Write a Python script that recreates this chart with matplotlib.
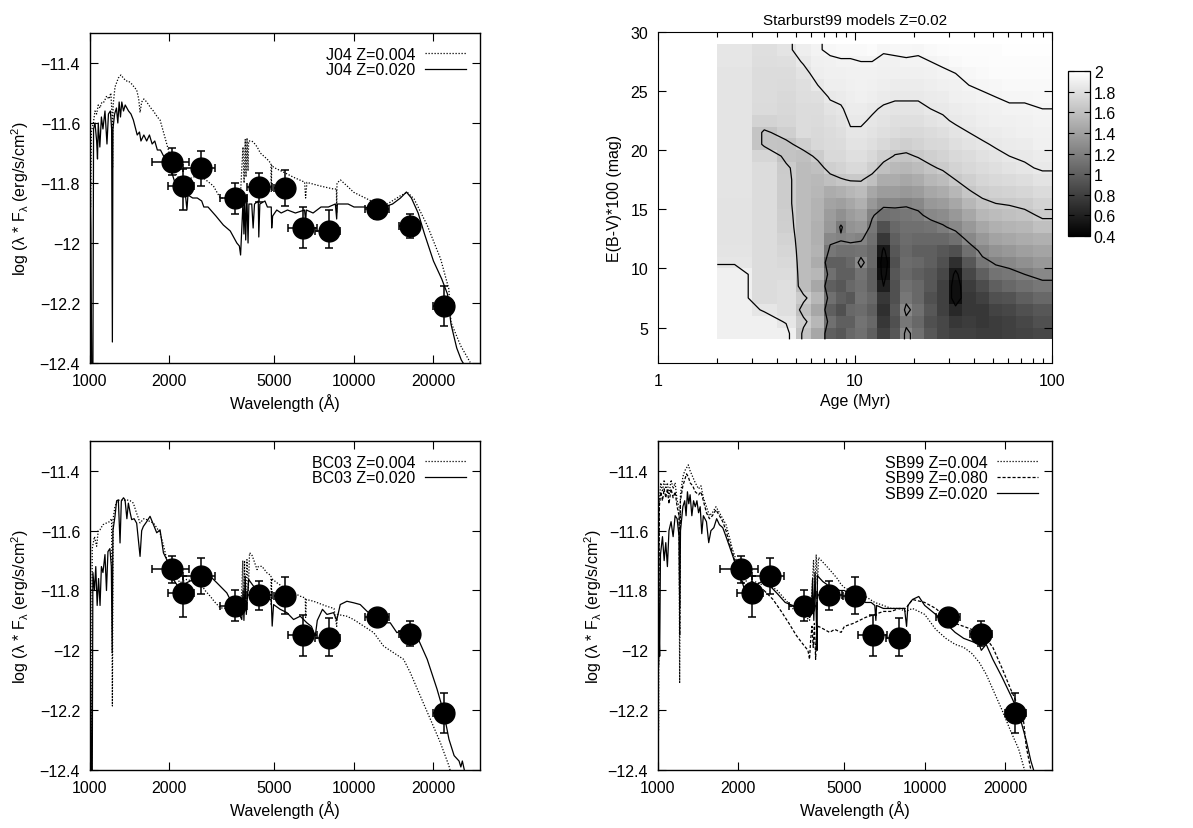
import numpy as np
import matplotlib
matplotlib.use('Agg')
import matplotlib.pyplot as plt
from matplotlib.ticker import FixedLocator, NullLocator, FuncFormatter, LogLocator

plt.rcParams['font.family'] = ['Liberation Sans', 'DejaVu Sans']
plt.rcParams['mathtext.default'] = 'regular'
plt.rcParams['font.size'] = 12

# observed photometry (same in the three SED panels)
obs_wave = np.array([2040, 2247, 2637, 3528, 4387, 5460, 6410, 8017, 12236, 16270, 21880])
obs_flux = np.array([-11.729, -11.809, -11.751, -11.851, -11.814, -11.818, -11.949, -11.960, -11.888, -11.944, -12.209])
obs_wave_lo = np.array([1714, 1982, 2247, 3112, 3931, 4960, 5607, 7139, 11050, 14780, 19960])
obs_wave_hi = np.array([2375, 2481, 2980, 3931, 4890, 5906, 7245, 8826, 13540, 17860, 23900])
obs_flux_lo = np.array([-11.775, -11.889, -11.811, -11.903, -11.864, -11.878, -12.018, -12.018, -11.920, -11.984, -12.276])
obs_flux_hi = np.array([-11.683, -11.753, -11.692, -11.800, -11.767, -11.756, -11.881, -11.891, -11.873, -11.903, -12.144])

wave_ticks = [1000, 2000, 5000, 10000, 20000]
flux_ticks = [-12.4, -12.2, -12.0, -11.8, -11.6, -11.4]

# model spectra (wavelength [A], log flux)
j04_z004 = [(1000,-11.66),(1006,-11.88),(1012,-11.63),(1030,-11.60),(1045,-11.56),(1060,-11.57),(1075,-11.54),
    (1091,-11.55),(1110,-11.53),(1130,-11.53),(1157,-11.51),(1180,-11.52),(1200,-11.50),(1212,-11.57),(1218,-11.75),
    (1224,-11.54),(1244,-11.48),(1281,-11.45),(1310,-11.44),(1338,-11.45),(1370,-11.46),(1398,-11.46),(1439,-11.47),
    (1470,-11.48),(1503,-11.49),(1530,-11.52),(1548,-11.565),(1570,-11.53),(1600,-11.52),(1641,-11.53),(1700,-11.55),
    (1739,-11.56),(1800,-11.58),(1843,-11.59),(1926,-11.65),(1982,-11.69),(2071,-11.76),(2200,-11.79),(2328,-11.79),
    (2467,-11.78),(2613,-11.775),(2750,-11.79),(2935,-11.81),(3114,-11.85),(3300,-11.85),(3496,-11.853),(3650,-11.85),
    (3707,-11.86),(3760,-11.75),(3800,-11.68),(3835,-11.80),(3874,-11.655),(3900,-11.78),(3935,-11.65),(3970,-11.76),
    (3990,-11.66),(4100,-11.66),(4170,-11.665),(4300,-11.68),(4418,-11.70),(4684,-11.72),(4850,-11.735),(4860,-11.83),
    (4880,-11.74),(4963,-11.748),(5418,-11.764),(5907,-11.781),(6500,-11.797),(6560,-11.85),(6633,-11.798),(7450,-11.81),
    (8364,-11.82),(8580,-11.82),(8600,-11.90),(8623,-11.80),(8890,-11.79),(9418,-11.81),(9977,-11.831),(11210,-11.853),
    (12248,-11.87),(13384,-11.87),(15030,-11.842),(15930,-11.831),(16890,-11.853),(18960,-11.942),(21290,-12.053),
    (22870,-12.153),(23300,-12.264),(25340,-12.342),(27560,-12.398)]

j04_z020 = [(1000,-11.74),(1008,-11.95),(1016,-12.45),(1026,-12.45),(1032,-11.62),(1045,-11.60),(1060,-11.66),
    (1068,-11.72),(1075,-11.60),(1090,-11.68),(1105,-11.58),(1120,-11.62),(1140,-11.56),(1160,-11.67),(1175,-11.57),
    (1195,-11.56),(1208,-11.62),(1216,-12.33),(1222,-11.62),(1240,-11.57),(1260,-11.55),(1275,-11.60),(1290,-11.53),
    (1305,-11.58),(1320,-11.53),(1340,-11.56),(1360,-11.54),(1380,-11.55),(1400,-11.56),(1430,-11.57),(1460,-11.59),
    (1490,-11.62),(1510,-11.64),(1540,-11.63),(1560,-11.66),(1600,-11.64),(1640,-11.66),(1680,-11.64),(1720,-11.67),
    (1760,-11.66),(1800,-11.69),(1850,-11.69),(1900,-11.71),(1950,-11.72),(2000,-11.75),(2050,-11.77),(2100,-11.80),
    (2150,-11.81),(2200,-11.83),(2250,-11.84),(2300,-11.84),(2330,-11.89),(2350,-11.84),(2450,-11.85),(2550,-11.85),
    (2650,-11.86),(2700,-11.88),(2800,-11.88),(3000,-11.91),(3200,-11.94),(3400,-11.96),(3600,-12.00),(3680,-12.01),
    (3720,-12.04),(3760,-11.95),(3800,-11.86),(3830,-11.97),(3860,-11.85),(3890,-11.99),(3930,-11.84),(3970,-12.00),
    (4000,-11.87),(4100,-11.87),(4150,-11.95),(4200,-11.87),(4340,-11.86),(4360,-11.98),(4400,-11.87),(4600,-11.86),
    (4700,-11.88),(4860,-11.88),(4880,-11.95),(4920,-11.91),(5100,-11.89),(5300,-11.90),(5600,-11.89),(6000,-11.90),
    (6500,-11.89),(6560,-11.93),(6600,-11.89),(7000,-11.90),(7500,-11.88),(8000,-11.88),(8500,-11.87),(8600,-11.92),
    (8650,-11.87),(9000,-11.87),(9500,-11.87),(10000,-11.88),(11000,-11.88),(12000,-11.89),(13000,-11.88),
    (14000,-11.87),(15000,-11.85),(15800,-11.83),(16500,-11.85),(17500,-11.90),(18500,-11.97),(20000,-12.06),
    (21500,-12.12),(22600,-12.17),(23300,-12.27),(24500,-12.35),(25500,-12.39),(27200,-12.43)]

bc03_z004 = [(1000,-11.74),(1006,-12.45),(1014,-12.45),(1020,-11.66),(1040,-11.62),(1060,-11.652),(1075,-11.60),
    (1091,-11.597),(1120,-11.58),(1157,-11.574),(1185,-11.57),(1208,-11.56),(1216,-12.186),(1224,-11.56),(1244,-11.519),
    (1270,-11.50),(1300,-11.497),(1340,-11.50),(1377,-11.497),(1420,-11.50),(1460,-11.508),(1500,-11.54),(1548,-11.574),
    (1600,-11.56),(1641,-11.563),(1690,-11.57),(1739,-11.574),(1790,-11.59),(1843,-11.608),(1900,-11.65),(1954,-11.697),
    (2071,-11.741),(2193,-11.774),(2326,-11.763),(2470,-11.77),(2612,-11.774),(2730,-11.80),(2852,-11.819),(2980,-11.84),
    (3115,-11.858),(3300,-11.86),(3497,-11.863),(3707,-11.874),(3760,-11.80),(3790,-11.70),(3818,-11.86),(3850,-11.70),
    (3880,-11.84),(3932,-11.697),(3980,-11.80),(4023,-11.674),(4100,-11.68),(4168,-11.697),(4294,-11.730),(4340,-11.72),
    (4482,-11.719),(4681,-11.741),(4850,-11.75),(4860,-11.85),(4880,-11.76),(5103,-11.774),(5571,-11.797),(6258,-11.819),
    (6540,-11.825),(6560,-11.89),(6600,-11.83),(7035,-11.836),(7901,-11.853),(8400,-11.86),(8600,-11.92),(8650,-11.88),
    (9401,-11.886),(9965,-11.897),(10880,-11.919),(11880,-11.941),(12950,-11.986),(14120,-12.008),(15410,-12.03),
    (16330,-12.074),(17820,-12.152),(19460,-12.23),(21230,-12.308),(22890,-12.386),(23270,-12.41)]

bc03_z020 = [(1000,-11.90),(1008,-12.20),(1014,-12.45),(1020,-12.45),(1026,-11.74),(1040,-11.80),(1052,-11.72),
    (1065,-11.85),(1078,-11.76),(1092,-11.85),(1105,-11.72),(1120,-11.74),(1140,-11.68),(1155,-11.80),(1170,-11.67),
    (1190,-11.66),(1205,-11.72),(1214,-12.008),(1222,-11.60),(1244,-11.552),(1262,-11.50),(1281,-11.497),(1300,-11.641),
    (1315,-11.50),(1340,-11.49),(1358,-11.497),(1380,-11.56),(1398,-11.508),(1420,-11.54),(1439,-11.563),(1470,-11.56),
    (1503,-11.575),(1548,-11.686),(1570,-11.60),(1593,-11.586),(1640,-11.57),(1689,-11.552),(1740,-11.58),(1790,-11.607),
    (1843,-11.597),(1898,-11.674),(1982,-11.708),(2071,-11.763),(2193,-11.797),(2326,-11.774),(2466,-11.763),
    (2612,-11.752),(2771,-11.741),(3023,-11.774),(3299,-11.808),(3497,-11.852),(3707,-11.886),(3759,-11.897),
    (3800,-11.80),(3830,-11.90),(3873,-11.752),(3910,-11.88),(3990,-11.763),(4168,-11.786),(4416,-11.808),(4681,-11.83),
    (4860,-11.83),(4900,-11.919),(4960,-11.847),(5257,-11.863),(5571,-11.874),(5904,-11.897),(6258,-11.886),
    (6631,-11.908),(6900,-11.92),(7135,-11.952),(7262,-11.90),(7598,-11.863),(7901,-11.880),(8370,-11.874),(8600,-11.90),
    (8872,-11.847),(9401,-11.836),(9965,-11.841),(10560,-11.847),(11190,-11.869),(12220,-11.897),(12950,-11.908),
    (13720,-11.908),(14540,-11.941),(15410,-11.930),(16330,-11.941),(17300,-11.952),(18940,-12.03),(20640,-12.13),
    (21880,-12.208),(22890,-12.297),(23950,-12.352),(25000,-12.37),(25400,-12.39),(25730,-12.37),(26490,-12.42)]

sb99_z004 = [(1000,-11.60),(1005,-12.27),(1012,-11.50),(1025,-11.44),(1040,-11.47),(1055,-11.43),(1070,-11.46),
    (1085,-11.44),(1100,-11.48),(1120,-11.43),(1140,-11.46),(1160,-11.44),(1180,-11.50),(1200,-11.52),(1206,-12.11),
    (1214,-11.48),(1240,-11.42),(1260,-11.40),(1280,-11.39),(1300,-11.38),(1320,-11.40),(1350,-11.42),(1380,-11.44),
    (1420,-11.46),(1450,-11.45),(1480,-11.49),(1520,-11.52),(1560,-11.55),(1600,-11.54),(1650,-11.52),(1700,-11.54),
    (1750,-11.56),(1800,-11.58),(1850,-11.62),(1900,-11.66),(1950,-11.69),(2000,-11.72),(2100,-11.76),(2200,-11.78),
    (2300,-11.77),(2450,-11.78),(2600,-11.78),(2800,-11.80),(3000,-11.83),(3200,-11.86),(3400,-11.88),(3600,-11.89),
    (3700,-11.90),(3780,-11.80),(3830,-11.70),(3870,-11.80),(3920,-11.68),(3960,-11.78),(4000,-11.69),(4100,-11.70),
    (4300,-11.72),(4500,-11.74),(4700,-11.76),(4860,-11.78),(5000,-11.79),(5500,-11.81),(6000,-11.82),(6500,-11.84),
    (7000,-11.85),(7500,-11.86),(8000,-11.86),(8500,-11.87),(9000,-11.86),(9500,-11.87),(10000,-11.88),(11000,-11.93),
    (12000,-11.96),(13000,-11.98),(14000,-11.99),(15000,-12.01),(16000,-12.04),(17000,-12.08),(18000,-12.13),
    (19500,-12.20),(21000,-12.27),(22500,-12.33),(23500,-12.39),(24000,-12.42)]

sb99_z080 = [(1000,-11.58),(1006,-12.05),(1012,-11.52),(1025,-11.47),(1040,-11.50),(1055,-11.46),(1070,-11.49),
    (1085,-11.46),(1100,-11.51),(1120,-11.46),(1140,-11.49),(1160,-11.47),(1180,-11.52),(1200,-11.55),(1207,-11.95),
    (1214,-11.50),(1240,-11.45),(1260,-11.43),(1280,-11.41),(1300,-11.42),(1320,-11.44),(1350,-11.45),(1380,-11.47),
    (1420,-11.48),(1450,-11.47),(1480,-11.50),(1520,-11.54),(1560,-11.56),(1600,-11.55),(1650,-11.53),(1700,-11.55),
    (1750,-11.57),(1800,-11.60),(1850,-11.64),(1900,-11.67),(1950,-11.71),(2000,-11.74),(2100,-11.78),(2200,-11.79),
    (2350,-11.79),(2500,-11.80),(2700,-11.83),(2900,-11.87),(3100,-11.91),(3300,-11.95),(3500,-11.98),(3650,-12.00),
    (3700,-12.03),(3740,-11.96),(3780,-11.92),(3820,-11.99),(3860,-11.91),(3900,-12.03),(3940,-11.93),(4000,-11.92),
    (4200,-11.93),(4400,-11.94),(4600,-11.93),(4860,-11.94),(5000,-11.92),(5400,-11.91),(6000,-11.89),(6500,-11.88),
    (7000,-11.87),(7500,-11.87),(8000,-11.86),(8500,-11.86),(9000,-11.83),(10000,-11.84),(11000,-11.86),(12000,-11.89),
    (13000,-11.91),(14000,-11.92),(15000,-11.93),(16000,-11.94),(17000,-11.96),(18000,-11.99),(19500,-12.06),
    (21000,-12.13),(22000,-12.17),(23000,-12.21),(23500,-12.24),(24000,-12.32),(25000,-12.40),(25500,-12.43)]

sb99_z020 = [(1000,-11.62),(1008,-11.90),(1015,-12.02),(1022,-11.68),(1040,-11.62),(1055,-11.70),(1070,-11.64),
    (1085,-11.72),(1100,-11.60),(1120,-11.57),(1140,-11.62),(1160,-11.55),(1180,-11.56),(1200,-11.62),(1207,-11.86),
    (1215,-11.60),(1240,-11.52),(1260,-11.50),(1275,-11.55),(1290,-11.47),(1305,-11.51),(1320,-11.48),(1340,-11.55),
    (1360,-11.50),(1380,-11.52),(1400,-11.50),(1420,-11.54),(1440,-11.52),(1460,-11.61),(1480,-11.55),(1520,-11.57),
    (1550,-11.64),(1580,-11.60),(1620,-11.59),(1660,-11.56),(1700,-11.58),(1750,-11.59),(1800,-11.62),(1850,-11.65),
    (1900,-11.68),(1950,-11.71),(2000,-11.73),(2050,-11.76),(2100,-11.79),(2150,-11.78),(2250,-11.77),(2350,-11.78),
    (2450,-11.77),(2600,-11.78),(2800,-11.81),(3000,-11.84),(3200,-11.85),(3400,-11.87),(3600,-11.88),(3700,-11.89),
    (3760,-11.88),(3800,-11.76),(3840,-11.90),(3880,-11.74),(3920,-11.88),(3950,-12.00),(3960,-11.75),(4050,-11.76),
    (4150,-11.77),(4300,-11.78),(4400,-11.79),(4600,-11.79),(4800,-11.80),(5000,-11.80),(5200,-11.81),(5500,-11.82),
    (5800,-11.83),(6000,-11.84),(6300,-11.84),(6500,-11.85),(6560,-11.90),(6600,-11.85),(7000,-11.86),(7500,-11.86),
    (8000,-11.86),(8400,-11.86),(8550,-11.92),(8650,-11.85),(9000,-11.83),(9500,-11.82),(10000,-11.85),(11000,-11.88),
    (12000,-11.91),(13000,-11.94),(14000,-11.96),(15000,-11.97),(16000,-11.98),(16300,-12.00),(17000,-11.98),
    (18000,-12.03),(19500,-12.09),(21000,-12.15),(22000,-12.19),(23000,-12.24),(24000,-12.30),(25000,-12.37),
    (26000,-12.42)]

# Starburst99 fit grid: one list per age bin, E(B-V) bins 4 -> 29
age_edges = [2, 3, 4, 5, 6, 7, 8, 9, 10, 11.5, 13, 15, 17, 19.5, 22.5, 26, 30, 35, 41, 48, 56, 66, 80, 100]
ebv_edges = list(range(4, 30))
grid_cols = [
    [1.90,1.90,1.90,1.90,1.90,1.90,1.84,1.83,1.82,1.82,1.82,1.82,1.83,1.83,1.83,1.83,1.83,1.83,1.83,1.83,1.83,1.83,1.83,1.84,1.84],
    [1.90,1.90,1.84,1.78,1.78,1.78,1.78,1.78,1.78,1.78,1.78,1.78,1.78,1.78,1.78,1.74,1.63,1.63,1.72,1.77,1.78,1.78,1.78,1.79,1.80],
    [1.90,1.84,1.80,1.80,1.80,1.78,1.76,1.74,1.72,1.70,1.69,1.68,1.68,1.68,1.67,1.62,1.62,1.70,1.74,1.75,1.76,1.77,1.78,1.80,1.83],
    [1.62,1.68,1.60,1.68,1.58,1.58,1.58,1.58,1.58,1.58,1.58,1.58,1.58,1.58,1.58,1.60,1.70,1.78,1.78,1.78,1.79,1.80,1.82,1.86,1.89],
    [1.45,1.55,1.45,1.55,1.45,1.55,1.48,1.52,1.50,1.50,1.52,1.52,1.55,1.56,1.60,1.68,1.75,1.76,1.77,1.78,1.80,1.85,1.89,1.90,1.92],
    [1.00,1.10,1.00,1.10,1.00,1.10,1.00,1.15,1.25,1.35,1.38,1.42,1.48,1.60,1.70,1.76,1.77,1.78,1.80,1.82,1.86,1.89,1.90,1.91,1.95],
    [0.95,1.00,0.90,1.00,0.95,1.00,1.00,1.10,1.22,1.18,1.30,1.40,1.50,1.64,1.72,1.76,1.78,1.80,1.82,1.84,1.87,1.89,1.90,1.92,1.96],
    [1.05,1.00,1.05,0.95,1.05,1.00,1.05,1.10,1.25,1.32,1.38,1.45,1.55,1.66,1.76,1.80,1.82,1.84,1.86,1.88,1.89,1.90,1.91,1.92,1.96],
    [1.10,1.12,1.08,1.12,1.10,1.12,1.26,1.12,1.22,1.35,1.42,1.50,1.58,1.66,1.76,1.80,1.82,1.84,1.86,1.88,1.90,1.91,1.91,1.93,1.96],
    [1.00,1.05,1.00,1.05,1.00,1.00,1.05,1.05,1.10,1.15,1.22,1.35,1.45,1.60,1.70,1.76,1.80,1.82,1.84,1.86,1.89,1.90,1.91,1.93,1.97],
    [0.80,0.75,0.70,0.75,0.60,0.50,0.45,0.55,0.75,0.90,1.10,1.25,1.38,1.48,1.60,1.70,1.76,1.80,1.82,1.84,1.87,1.89,1.90,1.91,1.94],
    [0.95,0.90,0.95,0.90,0.90,0.95,0.90,0.95,1.00,1.05,1.12,1.25,1.38,1.48,1.56,1.64,1.72,1.78,1.80,1.83,1.86,1.88,1.90,1.91,1.95],
    [1.25,1.15,1.25,1.15,1.10,1.05,1.08,1.05,1.08,1.10,1.15,1.22,1.35,1.45,1.55,1.63,1.70,1.76,1.80,1.83,1.86,1.88,1.90,1.92,1.95],
    [1.10,1.05,1.10,1.05,1.05,1.00,1.05,1.00,1.05,1.10,1.17,1.25,1.38,1.48,1.58,1.66,1.72,1.76,1.80,1.83,1.86,1.88,1.90,1.92,1.94],
    [0.95,0.90,0.95,0.90,0.95,0.95,1.00,1.00,1.05,1.12,1.25,1.35,1.45,1.55,1.63,1.70,1.75,1.78,1.82,1.85,1.87,1.89,1.91,1.93,1.96],
    [0.85,0.85,0.80,0.80,0.80,0.85,0.90,0.95,1.05,1.18,1.28,1.38,1.48,1.58,1.67,1.72,1.76,1.80,1.84,1.86,1.88,1.90,1.92,1.94,1.97],
    [0.80,0.75,0.65,0.50,0.50,0.55,0.70,0.90,1.10,1.25,1.35,1.45,1.55,1.65,1.72,1.76,1.80,1.83,1.86,1.88,1.90,1.91,1.93,1.96,1.98],
    [0.80,0.78,0.75,0.75,0.78,0.85,0.95,1.10,1.25,1.35,1.45,1.55,1.64,1.70,1.75,1.78,1.82,1.85,1.87,1.89,1.91,1.93,1.95,1.97,1.98],
    [0.78,0.75,0.75,0.80,0.88,1.00,1.15,1.25,1.35,1.45,1.55,1.62,1.69,1.74,1.78,1.81,1.84,1.87,1.89,1.90,1.92,1.94,1.96,1.97,1.98],
    [0.78,0.78,0.82,0.90,1.00,1.12,1.22,1.32,1.42,1.50,1.58,1.65,1.71,1.76,1.80,1.83,1.86,1.88,1.90,1.91,1.93,1.95,1.97,1.98,1.98],
    [0.80,0.80,0.85,0.92,1.05,1.15,1.25,1.35,1.45,1.53,1.60,1.66,1.72,1.77,1.82,1.85,1.87,1.89,1.90,1.92,1.94,1.96,1.97,1.98,1.99],
    [0.82,0.85,0.90,1.00,1.10,1.20,1.30,1.40,1.48,1.55,1.62,1.68,1.74,1.79,1.84,1.86,1.88,1.90,1.91,1.92,1.94,1.96,1.97,1.98,1.99],
    [0.85,0.90,0.95,1.05,1.15,1.25,1.35,1.43,1.50,1.60,1.67,1.72,1.77,1.82,1.86,1.88,1.90,1.91,1.92,1.93,1.95,1.96,1.97,1.98,1.99],
]
contour_levels = [0.6, 1.2, 1.65, 1.85, 1.93]
cbar_ticks = [0.4, 0.6, 0.8, 1.0, 1.2, 1.4, 1.6, 1.8, 2.0]

ylab = 'log (λ * F$_{λ}$ (erg/s/cm$^{2}$)'


def gp_fmt(v, pos):
    return ('%g' % v).replace('-', '\u2212')


fig = plt.figure(figsize=(11.93, 8.29), dpi=100)


def sed_panel(rect, models, ylabelpad=6):
    ax = fig.add_axes(rect)
    for series, ls, lab in models:
        arr = np.array(series)
        ax.plot(arr[:, 0], arr[:, 1], color='black', lw=0.9, linestyle=ls, label=lab)
    ax.errorbar(obs_wave, obs_flux,
                xerr=[obs_wave - obs_wave_lo, obs_wave_hi - obs_wave],
                yerr=[obs_flux - obs_flux_lo, obs_flux_hi - obs_flux],
                fmt='o', ms=15, color='black', ecolor='black', elinewidth=1.1,
                capsize=3, capthick=1.1, zorder=5)
    ax.set_xscale('log')
    ax.set_xlim(1000, 30000)
    ax.set_ylim(-12.4, -11.3)
    ax.xaxis.set_major_locator(FixedLocator(wave_ticks))
    ax.xaxis.set_minor_locator(NullLocator())
    ax.xaxis.set_major_formatter(FuncFormatter(lambda v, p: '%d' % v))
    ax.yaxis.set_major_locator(FixedLocator(flux_ticks))
    ax.yaxis.set_major_formatter(FuncFormatter(gp_fmt))
    ax.tick_params(direction='in', top=True, right=True, length=6, width=0.8, labelsize=11.5, pad=7)
    for s in ax.spines.values():
        s.set_linewidth(1.0)
    ax.set_xlabel('Wavelength (Å)', fontsize=11.5, labelpad=4)
    ax.set_ylabel(ylab, fontsize=11.5, labelpad=ylabelpad)
    ax.legend(loc='upper right', frameon=False, markerfirst=False, handlelength=2.6,
              handletextpad=0.6, labelspacing=0.05, borderaxespad=0.5, borderpad=0.35, fontsize=11.5)
    return ax


dot = (0, (1, 1.4))
dash = (0, (2.5, 1.5))

sed_panel([0.0754, 0.5609, 0.3269, 0.3981],
          [(j04_z004, dot, 'J04 Z=0.004'), (j04_z020, '-', 'J04 Z=0.020')])
sed_panel([0.0754, 0.0700, 0.3269, 0.3969],
          [(bc03_z004, dot, 'BC03 Z=0.004'), (bc03_z020, '-', 'BC03 Z=0.020')])
sed_panel([0.5515, 0.0700, 0.3303, 0.3969],
          [(sb99_z004, dot, 'SB99 Z=0.004'), (sb99_z080, dash, 'SB99 Z=0.080'),
           (sb99_z020, '-', 'SB99 Z=0.020')], ylabelpad=3)

# Starburst99 age / extinction map
ax = fig.add_axes([0.5515, 0.5609, 0.3303, 0.3993])
grid = np.array(grid_cols).T
ae = np.array(age_edges, dtype=float)
ee = np.array(ebv_edges, dtype=float)
mesh = ax.pcolormesh(ae, ee, grid, cmap='gray', vmin=0.4, vmax=2.0, shading='flat')
age_mid = np.sqrt(ae[:-1] * ae[1:])
ebv_mid = 0.5 * (ee[:-1] + ee[1:])
cx = np.concatenate([[ae[0]], age_mid, [ae[-1]]])
cy = np.concatenate([[ee[0]], ebv_mid, [ee[-1]]])
ax.contour(cx, cy, np.pad(grid, 1, mode='edge'), levels=contour_levels, colors='black', linewidths=0.9)
ax.set_xscale('log')
ax.set_xlim(1, 100)
ax.set_ylim(2, 30)
ax.xaxis.set_major_locator(FixedLocator([1, 10, 100]))
ax.xaxis.set_minor_locator(LogLocator(base=10, subs=np.arange(2, 10)))
ax.xaxis.set_major_formatter(FuncFormatter(gp_fmt))
ax.xaxis.set_minor_formatter(FuncFormatter(lambda v, p: ''))
ax.yaxis.set_major_locator(FixedLocator([5, 10, 15, 20, 25, 30]))
ax.yaxis.set_major_formatter(FuncFormatter(gp_fmt))
ax.tick_params(which='major', direction='in', top=True, right=True, length=6, width=0.8, labelsize=11.5, pad=7)
ax.tick_params(which='minor', direction='in', top=True, right=True, length=3.5, width=0.8)
ax.set_xlabel('Age (Myr)', fontsize=11.5, labelpad=4)
ax.set_ylabel('E(B-V)*100 (mag)', fontsize=11.5, labelpad=6)
ax.set_title('Starburst99 models Z=0.02', fontsize=11, pad=6)

cax = fig.add_axes([0.895, 0.714, 0.0184, 0.199])
cb = fig.colorbar(mesh, cax=cax)
cb.set_ticks(cbar_ticks)
cb.ax.yaxis.set_major_formatter(FuncFormatter(gp_fmt))
cb.ax.tick_params(direction='in', left=True, right=True, length=4, width=0.8, labelsize=11.5, pad=3)
cb.outline.set_linewidth(0.9)

fig.savefig('out.png', dpi=100)
